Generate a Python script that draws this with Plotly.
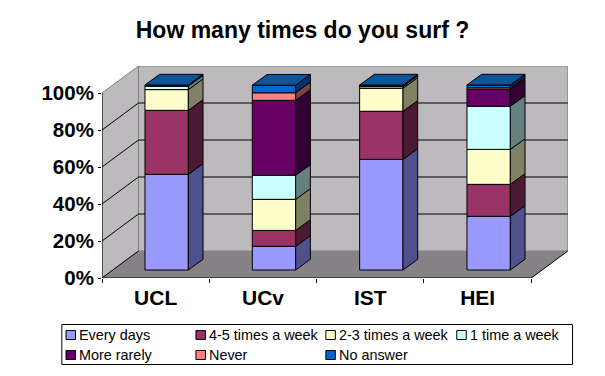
import plotly.graph_objects as go

categories = ["UCL", "UCv", "IST", "HEI"]
series_names = ["Every days", "4-5 times a week", "2-3 times a week", "1 time a week",
                "More rarely", "Never", "No answer"]
every_days = [51.7, 12.8, 59.8, 29.0]
four_five = [34.6, 8.6, 26.0, 17.3]
two_three = [11.2, 16.8, 12.4, 18.9]
one_time = [1.9, 13.0, 0.9, 23.3]
more_rarely = [0.0, 40.5, 0.3, 9.2]
never = [0.0, 4.1, 0.0, 0.8]
no_answer = [0.6, 4.1, 0.6, 1.5]
series_values = [every_days, four_five, two_three, one_time, more_rarely, never, no_answer]
front_colors = ["#9999ff", "#993366", "#ffffcc", "#ccffff", "#660066", "#ff8080", "#0066cc"]
side_colors = ["#50508c", "#4d1a33", "#808066", "#668080", "#330033", "#804040", "#003366"]
top_color = "#0a559c"
y_ticks = [0, 20, 40, 60, 80, 100]
y_tick_labels = ["0%", "20%", "40%", "60%", "80%", "100%"]

# plot-area geometry
W, H = 605, 376
L, R, T, B = 101.7, 568.0, 66.0, 278.0
CAT_PX = 107.4
PCT_PX = 1.85
WALL_DX = 36.5 / CAT_PX
WALL_DY = 27.0 / PCT_PX
BAR_SHIFT_X = 11.0 / CAT_PX
BAR_SHIFT_Y = 8.0 / PCT_PX
BAR_W = 43.4 / CAT_PX
BAR_DX = 14.7 / CAT_PX
BAR_DY = 10.7 / PCT_PX
X0, X1 = -0.5, 3.5
WALL = "#bdbabd"
FLOOR = "#868286"

fig = go.Figure()


def poly(xs, ys, fill, line="rgba(0,0,0,0)", width=1, layer="below"):
    path = "M" + " L".join(f"{x},{y}" for x, y in zip(xs, ys)) + " Z"
    fig.add_shape(type="path", path=path, xref="x", yref="y", fillcolor=fill,
                  line=dict(color=line, width=width), layer=layer)


def seg(x0, y0, x1, y1, color="black", width=1, layer="below"):
    fig.add_shape(type="line", x0=x0, y0=y0, x1=x1, y1=y1, xref="x", yref="y",
                  line=dict(color=color, width=width), layer=layer)


# walls and floor
poly([X0 + WALL_DX, X1 + WALL_DX, X1 + WALL_DX, X0 + WALL_DX],
     [WALL_DY, WALL_DY, 100 + WALL_DY, 100 + WALL_DY], WALL, "#808080")
poly([X0, X0 + WALL_DX, X0 + WALL_DX, X0],
     [0, WALL_DY, 100 + WALL_DY, 100], WALL, "#808080")
poly([X0, X1, X1 + WALL_DX, X0 + WALL_DX], [0, 0, WALL_DY, WALL_DY], FLOOR)
for v in y_ticks[1:-1]:
    seg(X0, v, X0 + WALL_DX, v + WALL_DY)
    seg(X0 + WALL_DX, v + WALL_DY, X1 + WALL_DX, v + WALL_DY)
seg(X1, 0, X1 + WALL_DX, WALL_DY)
seg(X0, 0, X0 + WALL_DX, WALL_DY)
seg(X0, 0, X1, 0, layer="above")
seg(X0, 0, X0, 100, layer="above")

# stacked bars: front faces, then side and top faces
positions = [i + BAR_SHIFT_X for i in range(len(categories))]
bases = [BAR_SHIFT_Y] * len(categories)
for name, vals, fc, sc in zip(series_names, series_values, front_colors, side_colors):
    fig.add_trace(go.Bar(x=positions, y=vals, base=bases, width=BAR_W, name=name,
                         marker=dict(color=fc, line=dict(color="black", width=1)),
                         showlegend=False))
    for xc, b, v in zip(positions, bases, vals):
        if v <= 0:
            continue
        xr = xc + BAR_W / 2
        fig.add_trace(go.Scatter(
            x=[xr, xr + BAR_DX, xr + BAR_DX, xr, xr],
            y=[b, b + BAR_DY, b + v + BAR_DY, b + v, b],
            mode="lines", fill="toself", fillcolor=sc,
            line=dict(color="black", width=1), showlegend=False, hoverinfo="skip"))
    bases = [b + v for b, v in zip(bases, vals)]

for xc, top in zip(positions, bases):
    xl, xr = xc - BAR_W / 2, xc + BAR_W / 2
    fig.add_trace(go.Scatter(
        x=[xl, xr, xr + BAR_DX, xl + BAR_DX, xl],
        y=[top, top, top + BAR_DY, top + BAR_DY, top],
        mode="lines", fill="toself", fillcolor=top_color,
        line=dict(color="black", width=1), showlegend=False, hoverinfo="skip"))


def px(x):
    return (x - L) / (R - L)


def py(y):
    return (B - y) / (B - T)


# legend box
fig.add_shape(type="rect", xref="paper", yref="paper", x0=px(61.5), x1=px(572.5),
              y0=py(364.5), y1=py(324.5), line=dict(color="black", width=1), fillcolor="white")
col_x = [65.7, 195.7, 325.7, 456.7]
row_y = [335, 355]
for i, (name, fc) in enumerate(zip(series_names, front_colors)):
    cx, cy = col_x[i % 4], row_y[i // 4]
    fig.add_shape(type="rect", xref="paper", yref="paper", x0=px(cx), x1=px(cx + 9.5),
                  y0=py(cy + 4.5), y1=py(cy - 4.5), fillcolor=fc,
                  line=dict(color="black", width=1))
    fig.add_annotation(text=name, xref="paper", yref="paper", x=px(cx + 12.3), y=py(cy),
                       xanchor="left", yanchor="middle", showarrow=False, xshift=-1,
                       font=dict(family="Liberation Sans", size=14.4, color="black"))

fig.update_layout(
    width=W, height=H, autosize=False, barmode="overlay", showlegend=False,
    paper_bgcolor="white", plot_bgcolor="white",
    margin=dict(l=L, r=W - R, t=T, b=H - B, pad=0),
    title=dict(text="How many times do you surf ?", x=302.5 / W, xanchor="center",
               y=1 - 30 / H, yanchor="middle",
               font=dict(family="Liberation Sans", size=23, color="black", weight="bold")),
    xaxis=dict(range=[X0, X1 + (R - L - 4 * CAT_PX) / CAT_PX],
               tickvals=list(range(len(categories))), ticktext=categories,
               ticks="", showgrid=False, zeroline=False, showline=False,
               ticklabelstandoff=5,
               minor=dict(tickvals=[-0.5, 0.5, 1.5, 2.5, 3.5], ticks="outside", ticklen=4,
                          tickcolor="black", tickwidth=1, showgrid=False),
               tickfont=dict(family="Liberation Sans", size=21, color="black", weight="bold")),
    yaxis=dict(range=[0, (B - T) / PCT_PX], tickvals=y_ticks, ticktext=y_tick_labels,
               ticks="outside", ticklen=3, tickcolor="black", showgrid=False, zeroline=False,
               showline=False, ticklabelstandoff=0,
               tickfont=dict(family="Liberation Sans", size=20.5, color="black", weight="bold")),
)

fig.write_html("out.html", config={"displayModeBar": False},
               post_script="document.body.style.margin='0';")
